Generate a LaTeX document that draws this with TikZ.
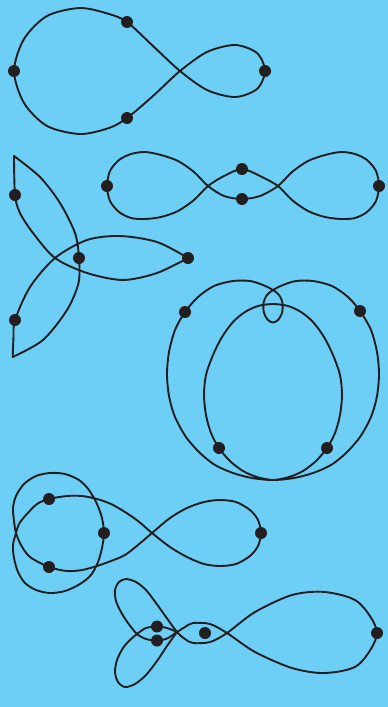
\documentclass[tikz,border=0pt]{standalone}
\definecolor{skyback}{RGB}{109,207,246}
\definecolor{inkline}{RGB}{35,31,32}
\begin{document}
\begin{tikzpicture}[x=1pt,y=-1pt,
  curve/.style={draw=inkline,line width=1.9pt,line join=round,line cap=round}]
  \fill[skyback] (0,0) rectangle (388,707);
  % dots
  \coordinate (a1) at (127,22);  \coordinate (a2) at (14,71);
  \coordinate (a3) at (127,118); \coordinate (a4) at (265,71);
  \coordinate (b1) at (15,195);  \coordinate (b2) at (79,258);
  \coordinate (b3) at (188,258); \coordinate (b4) at (15,320);
  \coordinate (c1) at (107,186); \coordinate (c2) at (242,169);
  \coordinate (c3) at (242,199); \coordinate (c4) at (379,186);
  \coordinate (e1) at (185,312); \coordinate (e2) at (360,311);
  \coordinate (e3) at (219,448); \coordinate (e4) at (327,448);
  \coordinate (f1) at (49,499);  \coordinate (f2) at (104,533);
  \coordinate (f3) at (49,567);  \coordinate (f4) at (261,533);
  \coordinate (g1) at (157,626.5); \coordinate (g2) at (157,640.5);
  \coordinate (g3) at (205,633); \coordinate (g4) at (377,633);
  % top fish
  \path[curve] plot[smooth cycle] coordinates {(180,71) (153,46) (a1) (109,14) (80,8)
    (47,16) (24,39) (a2) (24,103) (47,126) (80,134) (109,128) (a3) (153,96)
    (180,71) (207,52) (235,45) (257,53) (a4) (257,89) (235,97) (207,90)};
  % three lenses
  \path[curve] plot[smooth] coordinates {(14,156) (b1) (20,213) (33,233) (55,258)
    (87,273) (123,280) (157,273) (b3)};
  \path[curve] plot[smooth] coordinates {(b3) (157,242) (120,236) (87,240) (55,258)
    (30,287) (b4) (13.5,337) (12.7,357)};
  \path[curve] plot[smooth] coordinates {(12.7,357) (43,340) (67,310) (78.5,283) (b2)
    (75,233) (60,203) (40,177) (14,156)};
  % long eight
  \path[curve] plot[smooth cycle] coordinates {(c1) (110,171) (119,160) (131,154)
    (145,152) (161,155) (178,161) (194,172) (208,186) (224,196) (c3) (260,196)
    (278,186) (292,172) (308,161) (325,155) (341,152) (355,154) (367,160)
    (376,171) (c4) (376,201) (367,212) (355,218) (341,219) (325,217) (308,211)
    (292,200) (278,186) (260,176) (c2) (224,176) (208,186) (194,200) (178,211)
    (161,217) (145,219) (131,218) (119,212) (110,201)};
  % heart with small loop
  \path[curve] plot[smooth cycle] coordinates {(273,480) (252,478) (233,473) (215,465)
    (200,453) (186,437) (175,417) (169,396) (167,374) (169,352) (175,330) (e1)
    (198,297) (214,286) (233,281) (250,281) (263,285) (273,290) (279,295)
    (282.5,303) (282,313) (278,320) (273,322.5) (268,320) (264,313) (263.5,303)
    (267,295) (273,290) (283,285) (296,281) (313,281) (332,286) (348,297) (e2)
    (371,330) (377,352) (379,374) (377,396) (371,417) (360,437) (346,453)
    (331,465) (313,473) (294,478) (273,480) (257,477) (243,471) (230,461) (e3)
    (211,433) (206,415) (204,395) (206,375) (213,355) (222,337) (233,322)
    (245,312) (258,306) (273,304) (288,306) (301,312) (313,322) (324,337)
    (333,355) (340,375) (342,395) (340,415) (335,433) (e4) (316,461) (303,471)
    (289,477)};
  % eight with ring
  \path[curve] plot[smooth cycle] coordinates {(152,533) (138,521) (125,512) (111,504)
    (97,499) (82,496) (67,496) (f1) (37,504) (26,515) (19,524) (16,533) (13,545)
    (14,558) (18,572) (25,583) (36,590) (50,593) (65,591) (80,584) (91,575)
    (98,562) (102,548) (f2) (102,518) (97,504) (89,490) (79,480) (65,474)
    (50,473) (36,476) (24,484) (16,496) (13,508) (14,521) (16,533) (21,545)
    (30,557) (f3) (67,571) (82,570) (97,566) (111,561) (125,555) (138,545)
    (152,533) (170,518) (187,508) (204,502) (220,500) (236,502) (250,510)
    (258,520) (f4) (258,546) (250,556) (236,564) (220,566) (204,564) (187,557)
    (170,547)};
  % fish with tail
  \path[curve] plot[smooth cycle] coordinates {(177,632) (166,617) (156,603) (146,590)
    (136,582) (126,579) (119,582) (115,590) (116,601) (121,612) (128,623)
    (137,634) (146,639) (g2) (167,638.5) (177,632) (185,627) (193,623) (210,624)
    (227,633) (255,652) (292,668) (325,673) (358,665) (g4) (358,602) (325,592)
    (292,595) (255,612) (227,633) (210,642) (193,643) (185,639)};
  \path[curve] plot[smooth] coordinates {(177,632) (167,646) (157,661) (146,675)
    (135,684) (125,687) (118,682) (115,672) (117,660) (123,648) (130,640)
    (137,634) (146,628) (g1) (167,628) (177,632)};
  \foreach \p in {a1,a2,a3,a4,b1,b2,b3,b4,c1,c2,c3,c4,e1,e2,e3,e4,f1,f2,f3,f4,g1,g2,g3,g4}
    \fill[inkline] (\p) circle (6);
\end{tikzpicture}
\end{document}
